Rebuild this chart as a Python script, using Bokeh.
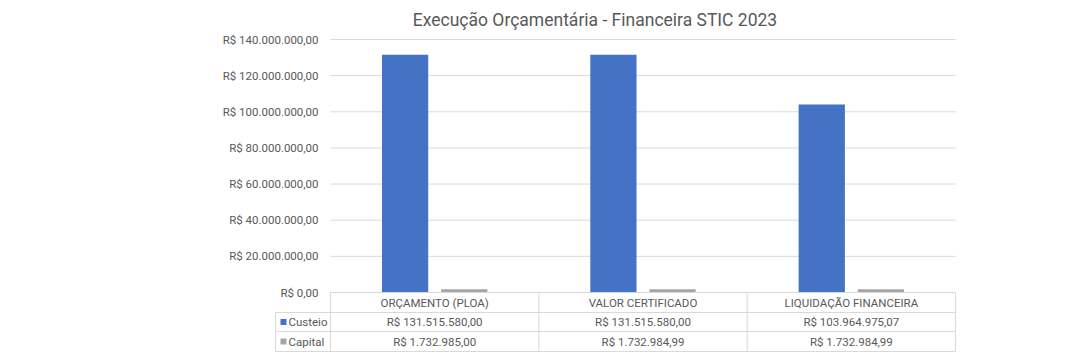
from bokeh.plotting import figure
from bokeh.models import ColumnDataSource, LinearAxis, FixedTicker, Range1d
from bokeh.core.properties import value
from bokeh.embed import file_html
from bokeh.resources import INLINE

# ---------------- data ----------------
title = "Execução Orçamentária - Financeira STIC 2023"
categories = ["ORÇAMENTO (PLOA)", "VALOR CERTIFICADO", "LIQUIDAÇÃO FINANCEIRA"]
series_names = ["Custeio", "Capital"]
custeio = [131515580.00, 131515580.00, 103964975.07]
capital = [1732985.00, 1732984.99, 1732984.99]
y_ticks = [0, 20000000, 40000000, 60000000, 80000000, 100000000, 120000000, 140000000]
colors = ["#4472C4", "#A5A5A5"]


def brl(v):
    s = f"{v:,.2f}".replace(",", "X").replace(".", ",").replace("X", ".")
    return "R$ " + s


# ---------------- layout ----------------
W, H = 1090, 357
FL, FR = 330, 955          # plot area left/right (px)
Y0, YT = 292, 39           # px from top for 0 and top tick
ncat = len(categories)
pxc = (FR - FL) / ncat
x_start = -FL / pxc
x_end = x_start + W / pxc
py = (Y0 - YT) / y_ticks[-1]
y_start = -(H - Y0) / py
y_end = y_start + H / py


def X(fx):
    return x_start + fx / pxc


def Y(fy):
    return y_end - fy / py


FONT = value("Roboto")
TXT = "#595959"
LINE = "#D9D9D9"

p = figure(width=W, height=H, x_range=Range1d(x_start, x_end), y_range=Range1d(y_start, y_end),
           output_backend="svg", toolbar_location=None, x_axis_type=None, y_axis_type=None,
           min_border=0, min_border_left=0, min_border_right=0, min_border_top=0, min_border_bottom=0,
           outline_line_color=None, background_fill_color="white", border_fill_color="white")

# gridlines
gx0 = [0] * (len(y_ticks) - 1)
gx1 = [ncat] * (len(y_ticks) - 1)
p.segment(x0=gx0, y0=y_ticks[1:], x1=gx1, y1=y_ticks[1:], line_color=LINE, line_width=1)

# bars
centers = [i + 0.5 for i in range(ncat)]
off = 0.142
bw = 0.222
src = ColumnDataSource(dict(xc=[c - off for c in centers], xk=[c + off for c in centers],
                            custeio=custeio, capital=capital))
p.vbar(x="xc", top="custeio", bottom=0, width=bw, source=src, fill_color=colors[0], line_color=None)
p.vbar(x="xk", top="capital", bottom=0, width=bw, source=src, fill_color=colors[1], line_color=None)

# y axis
yax = LinearAxis(ticker=FixedTicker(ticks=y_ticks), fixed_location=0,
                 axis_line_color=None, major_tick_line_color=None, minor_tick_line_color=None,
                 major_tick_in=0, major_tick_out=0, major_label_standoff=12,
                 major_label_text_font="Roboto", major_label_text_font_size="11.5px",
                 major_label_text_color=TXT,
                 major_label_overrides={t: brl(t) for t in y_ticks})
p.add_layout(yax, "left")

# data table
rows = [292, 312, 331, 351]
legl = 275
x0s, y0s, x1s, y1s = [], [], [], []
x0s.append(0); x1s.append(ncat); y0s.append(Y(rows[0])); y1s.append(Y(rows[0]))
for r in rows[1:]:
    x0s.append(X(legl)); x1s.append(ncat); y0s.append(Y(r)); y1s.append(Y(r))
x0s.append(X(legl)); x1s.append(X(legl)); y0s.append(Y(rows[1])); y1s.append(Y(rows[3]))
for k in range(ncat + 1):
    x0s.append(k); x1s.append(k); y0s.append(Y(rows[0])); y1s.append(Y(rows[3]))
p.segment(x0=x0s, y0=y0s, x1=x1s, y1=y1s, line_color=LINE, line_width=1)

rc = [(rows[i] + rows[i + 1]) / 2 for i in range(3)]
tx, ty, tt = [], [], []
for i, c in enumerate(categories):
    tx.append(centers[i]); ty.append(Y(rc[0])); tt.append(c)
    tx.append(centers[i]); ty.append(Y(rc[1])); tt.append(brl(custeio[i]))
    tx.append(centers[i]); ty.append(Y(rc[2])); tt.append(brl(capital[i]))
p.text(x=tx, y=ty, text=tt, text_font=FONT, text_font_size=value("11.5px"), text_color=TXT,
       text_align="center", text_baseline="middle")

# legend keys in table
p.scatter(x=[X(283), X(283)], y=[Y(rc[1]), Y(rc[2])], marker="square", size=6,
          fill_color=colors, line_color=None)
p.text(x=[X(288), X(288)], y=[Y(rc[1]), Y(rc[2])], text=series_names, text_font=FONT,
       text_font_size=value("11.5px"), text_color=TXT, text_align="left", text_baseline="middle")

# title
p.text(x=[X(594.5)], y=[Y(19.5)], text=[title], text_font=FONT, text_font_size=value("17.5px"),
       text_color=TXT, text_align="center", text_baseline="alphabetic")

open("out.html", "w").write(file_html(p, INLINE))
